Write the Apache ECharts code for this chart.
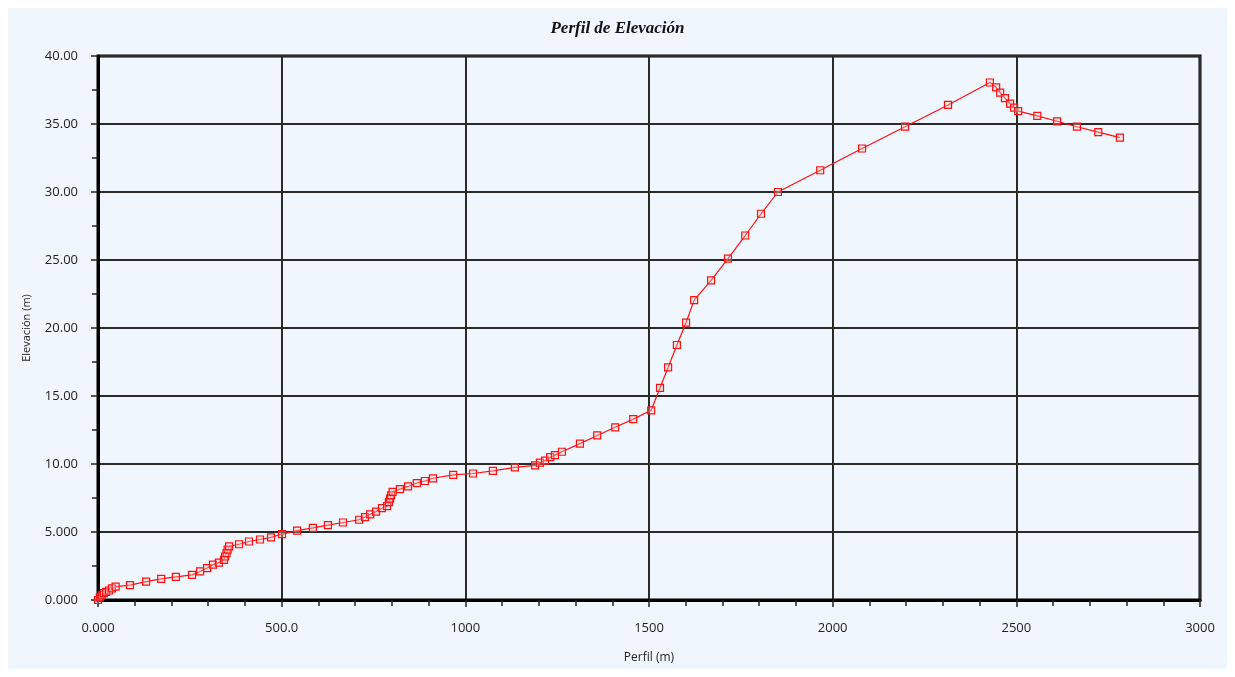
<!DOCTYPE html>
<html>
<head>
<meta charset="utf-8">
<title>Perfil de Elevación</title>
<script src="https://cdn.jsdelivr.net/npm/echarts@6/dist/echarts.min.js"></script>
<style>
  html, body { margin: 0; padding: 0; background: #fff; }
  #chart { width: 1235px; height: 677px; }
</style>
</head>
<body>
<div id="chart"></div>
<script>
// distance along the profile (m)
const distance = [
    0, 5, 10, 16, 22, 30, 38, 48,
    87, 131, 172, 212, 256, 278, 297, 313, 329, 343,
    346, 350, 353, 357, 384, 411, 441, 471, 501, 542,
    585, 626, 667, 711, 727, 741, 757, 773, 787,
    792, 795, 798, 802, 822, 844, 868, 890, 912,
    967, 1021, 1075, 1135, 1190, 1203, 1217, 1231, 1244, 1263,
    1312, 1359, 1408, 1457, 1506, 1530, 1552, 1576, 1601, 1623,
    1669, 1715, 1762, 1805, 1851, 1966, 2080, 2197, 2314, 2428,
    2445, 2456, 2469, 2483, 2494, 2505, 2557, 2611, 2665, 2723, 2782
];

// elevation (m)
const elevation = [
    0.00, 0.20, 0.35, 0.50, 0.60, 0.70, 0.85, 0.98,
    1.10, 1.35, 1.55, 1.70, 1.85, 2.10, 2.35, 2.60, 2.75, 2.95,
    3.20, 3.45, 3.70, 3.95, 4.10, 4.30, 4.45, 4.60, 4.85, 5.10,
    5.30, 5.50, 5.70, 5.90, 6.10, 6.30, 6.50, 6.75, 6.90,
    7.20, 7.45, 7.70, 7.95, 8.15, 8.35, 8.60, 8.75, 8.95,
    9.20, 9.30, 9.50, 9.75, 9.90, 10.10, 10.25, 10.50, 10.65, 10.90,
    11.50, 12.10, 12.70, 13.30, 13.95, 15.60, 17.10, 18.75, 20.40, 22.05,
    23.50, 25.10, 26.80, 28.40, 30.00, 31.60, 33.20, 34.80, 36.40, 38.05,
    37.70, 37.30, 36.90, 36.50, 36.20, 35.95, 35.60, 35.20, 34.80, 34.40, 34.00
];

const profile = distance.map((d, i) => [d, elevation[i]]);

// 4 significant digits, like the original labels (0.000, 500.0, 1000)
function fmt(v) {
    return Number(v).toPrecision(4);
}

let chart = echarts.init(document.getElementById('chart'));

chart.setOption({
    backgroundColor: '#ffffff',
    animation: false,
    graphic: [{
        type: 'rect',
        z: -100,
        shape: { x: 8, y: 8, width: 1219, height: 661 },
        style: { fill: '#eff6fd' }
    }],
    title: {
        text: 'Perfil de Elevación',
        left: 'center',
        top: 15,
        textStyle: {
            fontFamily: 'Liberation Serif',
            fontStyle: 'italic',
            fontWeight: 'bold',
            fontSize: 17,
            color: '#111'
        }
    },
    grid: {
        left: 98,
        right: 35,
        top: 56,
        bottom: 77,
        show: true,
        borderColor: '#000',
        borderWidth: 3,
        backgroundColor: 'transparent'
    },
    xAxis: {
        type: 'value',
        min: 0,
        max: 3000,
        interval: 500,
        name: 'Perfil (m)',
        nameLocation: 'middle',
        nameGap: 52,
        nameTextStyle: { fontFamily: 'Open Sans', fontSize: 12, color: '#222' },
        axisLine: { show: true, lineStyle: { color: '#000', width: 3 } },
        axisTick: { show: true, inside: false, length: 7, lineStyle: { color: '#222', width: 1.5 } },
        minorTick: { show: true, splitNumber: 5, length: 6, lineStyle: { color: '#222', width: 1.5 } },
        axisLabel: {
            margin: 22,
            formatter: fmt,
            fontFamily: 'Open Sans',
            fontSize: 13,
            color: '#222'
        },
        splitLine: { show: true, lineStyle: { color: '#2a2a2a', width: 2 } }
    },
    yAxis: {
        type: 'value',
        min: 0,
        max: 40,
        interval: 5,
        name: 'Elevación (m)',
        nameLocation: 'middle',
        nameGap: 66,
        nameTextStyle: { fontFamily: 'Open Sans', fontSize: 11, color: '#222' },
        axisLine: { show: true, lineStyle: { color: '#000', width: 3 } },
        axisTick: { show: true, inside: false, length: 7, lineStyle: { color: '#222', width: 1.5 } },
        minorTick: { show: true, splitNumber: 2, length: 6, lineStyle: { color: '#222', width: 1.5 } },
        axisLabel: {
            margin: 20,
            formatter: fmt,
            fontFamily: 'Open Sans',
            fontSize: 13,
            color: '#222'
        },
        splitLine: { show: true, lineStyle: { color: '#2a2a2a', width: 2 } }
    },
    series: [{
        name: 'Perfil',
        type: 'line',
        data: profile,
        symbol: 'rect',
        symbolSize: 7,
        showAllSymbol: true,
        lineStyle: { color: '#ff1010', width: 1.2 },
        itemStyle: {
            color: 'rgba(255, 200, 200, 0.35)',
            borderColor: '#ff1010',
            borderWidth: 1.2
        },
        z: 5
    }]
});
</script>
</body>
</html>
